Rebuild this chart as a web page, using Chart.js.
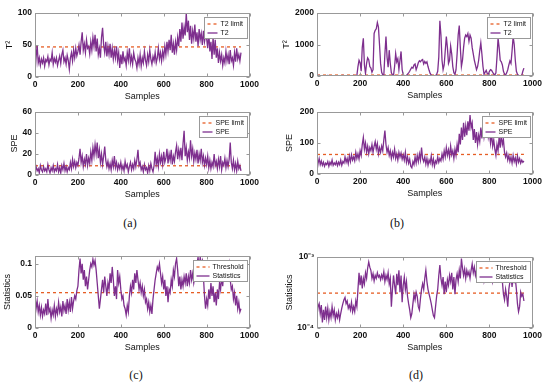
<!DOCTYPE html>
<html>
<head>
<meta charset="utf-8">
<script src="https://cdn.jsdelivr.net/npm/chart.js@4.4.1/dist/chart.umd.min.js"></script>
<style>
  body { margin: 0; background: #fff; }
  #wrap { position: relative; width: 550px; height: 383px; overflow: hidden; background: #fff; }
  canvas { position: absolute; }
  .cap { position: absolute; font: 12px 'Liberation Serif', 'DejaVu Serif', serif; color: #111; transform: translate(-50%, -50%); }
</style>
</head>
<body>
<div id="wrap">
  <canvas id="t2a" width="262" height="103" style="left:0;top:0"></canvas>
  <canvas id="speA" width="262" height="98" style="left:0;top:103px"></canvas>
  <canvas id="t2b" width="270" height="102" style="left:275px;top:0"></canvas>
  <canvas id="speB" width="270" height="97" style="left:275px;top:103px"></canvas>
  <canvas id="statC" width="262" height="109" style="left:0;top:245px"></canvas>
  <canvas id="statD" width="270" height="109" style="left:275px;top:245px"></canvas>
  <div class="cap" style="left:130px;top:223px">(a)</div>
  <div class="cap" style="left:397px;top:223px">(b)</div>
  <div class="cap" style="left:136px;top:375px">(c)</div>
  <div class="cap" style="left:416px;top:375px">(d)</div>
</div>
<script>
// one value every 5 samples
const sampleStep = 5;

// (a) T2 / SPE
const t2A = [
  5,30,50,22,30,18,28,22,30,17,27,24,32,19,28,25,38,20,29,23,
  30,18,26,33,21,35,42,24,30,20,34,26,12,30,38,25,42,30,45,33,
  40,50,35,55,70,42,52,38,58,45,48,36,55,42,62,48,66,40,60,35,
  45,30,62,77,50,38,55,32,48,35,52,30,45,28,42,30,48,26,38,14,
  35,20,40,25,30,18,38,26,45,22,32,20,38,28,24,14,30,20,35,17,
  30,22,40,26,18,35,24,42,28,20,32,25,38,22,30,45,28,38,25,40,
  30,48,35,55,40,58,42,66,38,52,35,55,42,62,48,75,55,85,60,78,
  65,100,70,88,58,80,52,72,60,82,55,70,48,75,58,68,50,72,55,65,
  60,45,70,40,55,28,62,35,58,30,45,22,38,25,35,18,30,22,40,25,
  35,20,42,25,30,18,38,24,45,28,35,25,38
];
const t2LimitA = 47;

const speA = [
  3,8,4,6,2,9,5,3,8,4,6,3,10,5,2,7,4,9,3,6,
  4,10,3,7,2,9,5,11,4,8,3,7,5,12,6,15,8,13,7,12,
  9,16,25,12,18,8,15,10,20,9,16,11,22,14,26,18,29,20,31,16,
  24,12,20,10,18,27,14,8,13,6,11,5,14,8,18,7,12,5,10,6,
  12,5,9,4,13,7,10,3,8,12,5,10,6,14,8,15,24,9,12,5,
  8,3,10,5,7,2,9,4,11,6,3,9,22,10,16,8,20,12,18,10,
  22,12,16,25,11,20,14,24,10,18,13,22,28,15,24,17,26,14,30,42,
  18,26,14,22,16,33,18,25,13,21,15,24,11,20,14,25,12,18,9,16,
  10,18,7,14,6,12,8,20,9,13,6,15,8,18,5,12,9,16,7,14,
  8,15,31,12,6,14,5,11,4,13,6,9,4
];
const speLimitA = 8.8;

// (b) T2 / SPE
const t2B = [
  12,8,15,10,6,14,9,12,7,11,15,8,10,13,6,9,12,8,14,10,
  9,13,7,11,15,8,12,10,6,14,9,12,8,11,15,10,13,20,300,500,
  420,150,900,1200,350,80,400,580,520,300,250,120,200,1350,1450,1500,1700,1550,1000,400,
  120,30,20,700,1250,600,280,820,400,100,40,20,300,710,450,550,200,500,780,200,
  40,15,10,20,60,100,150,220,280,250,350,380,200,300,420,480,450,500,520,380,
  460,400,450,300,180,80,30,15,10,15,20,50,150,600,1750,1300,500,200,350,800,
  1250,900,400,500,950,700,300,100,50,200,700,1300,1600,900,300,500,900,1200,1300,1250,
  1350,1100,1300,1200,900,700,500,350,200,300,500,800,1050,700,300,50,120,180,80,60,
  150,200,180,120,60,30,100,600,1200,900,500,450,350,150,60,30,100,200,350,480,
  400,800,1250,1000,500,150,60,20,10,10,20,150,250
];
const t2LimitB = 30;

const speB = [
  10,35,50,30,42,28,38,25,35,30,40,25,38,30,45,28,36,30,40,27,
  38,30,45,28,40,35,55,38,50,33,58,40,62,45,55,42,70,50,65,48,
  75,60,95,118,80,100,70,90,65,85,75,95,70,90,105,80,98,65,85,70,
  90,75,110,140,95,70,85,60,75,50,70,55,80,50,65,45,70,55,68,48,
  62,45,70,38,55,35,48,25,20,40,30,55,35,60,40,65,45,85,50,40,
  55,32,50,28,45,35,58,30,48,25,42,35,55,38,50,42,65,48,75,55,
  85,60,78,55,90,62,75,50,80,60,95,70,130,95,150,110,165,120,155,125,
  170,140,190,150,165,110,145,100,135,95,125,105,150,115,160,120,145,130,175,120,
  140,100,130,90,110,80,60,95,75,120,85,130,95,110,70,55,68,45,60,40,
  55,35,60,40,52,32,58,38,50,35,45,38,42
];
const speLimitB = 63;

// (c) statistics, linear axis
const statsC = [
  0.05,0.03,0.042,0.025,0.035,0.02,0.032,0.018,0.028,0.022,0.038,0.02,0.045,0.025,0.03,0.015,0.028,0.02,0.035,0.018,
  0.03,0.022,0.04,0.025,0.033,0.018,0.042,0.027,0.035,0.022,0.045,0.028,0.04,0.025,0.048,0.03,0.042,0.05,0.045,0.058,
  0.065,0.09,0.108,0.085,0.1,0.075,0.09,0.065,0.08,0.06,0.075,0.09,0.1,0.095,0.107,0.098,0.105,0.09,0.07,0.05,
  0.03,0.045,0.06,0.075,0.055,0.08,0.065,0.05,0.07,0.06,0.085,0.07,0.095,0.075,0.05,0.065,0.045,0.09,0.07,0.08,
  0.06,0.045,0.05,0.035,0.03,0.02,0.035,0.025,0.05,0.065,0.055,0.075,0.06,0.085,0.07,0.09,0.075,0.06,0.07,0.055,
  0.065,0.05,0.06,0.04,0.045,0.03,0.04,0.025,0.035,0.022,0.045,0.06,0.075,0.085,0.095,0.09,0.1,0.085,0.07,0.08,
  0.06,0.075,0.05,0.065,0.04,0.06,0.055,0.075,0.065,0.09,0.08,0.1,0.108,0.09,0.065,0.08,0.06,0.075,0.065,0.08,
  0.07,0.085,0.065,0.08,0.07,0.09,0.075,0.085,0.07,0.08,0.09,0.1,0.11,0.095,0.11,0.1,0.105,0.08,0.05,0.03,
  0.045,0.035,0.06,0.045,0.07,0.05,0.065,0.04,0.055,0.035,0.06,0.045,0.07,0.06,0.08,0.065,0.09,0.075,0.095,0.08,
  0.09,0.1,0.075,0.06,0.065,0.045,0.055,0.035,0.05,0.03,0.04,0.025,0.03
];
const thresholdC = 0.055;

// (d) statistics, log axis
const statsD = [
  1.5e-4,2.0e-4,2.2e-4,1.6e-4,2.1e-4,1.2e-4,1.8e-4,1.3e-4,2.0e-4,1.4e-4,1.9e-4,1.3e-4,1.7e-4,1.4e-4,2.0e-4,1.5e-4,1.8e-4,1.3e-4,1.6e-4,1.4e-4,
  1.7e-4,1.3e-4,1.6e-4,1.9e-4,2.2e-4,2.5e-4,2.7e-4,2.2e-4,2.4e-4,1.9e-4,2.1e-4,1.8e-4,2.3e-4,1.7e-4,2.0e-4,1.7e-4,2.4e-4,2.0e-4,3.5e-4,6.0e-4,
  4.0e-4,5.5e-4,3.6e-4,5.0e-4,4.2e-4,6.0e-4,5.0e-4,7.0e-4,8.5e-4,7.2e-4,6.5e-4,5.0e-4,5.8e-4,4.6e-4,5.5e-4,5.0e-4,6.0e-4,5.2e-4,5.5e-4,4.8e-4,
  5.6e-4,5.0e-4,6.2e-4,4.5e-4,5.5e-4,4.8e-4,6.0e-4,4.2e-4,5.0e-4,2.0e-4,3.5e-4,5.5e-4,4.0e-4,3.0e-4,5.8e-4,4.0e-4,6.5e-4,3.2e-4,5.5e-4,2.3e-4,
  4.0e-4,5.2e-4,3.5e-4,4.5e-4,2.8e-4,2.2e-4,1.8e-4,1.4e-4,1.6e-4,2.2e-4,3.0e-4,2.5e-4,3.2e-4,2.8e-4,2.0e-4,1.8e-4,2.6e-4,3.5e-4,4.2e-4,3.5e-4,
  5.0e-4,6.5e-4,4.5e-4,3.5e-4,3.0e-4,2.6e-4,2.2e-4,1.8e-4,1.5e-4,1.4e-4,2.0e-4,2.8e-4,3.5e-4,5.5e-4,7.7e-4,5.0e-4,4.0e-4,5.2e-4,3.0e-4,4.5e-4,
  3.2e-4,4.8e-4,4.0e-4,5.5e-4,4.5e-4,6.0e-4,3.5e-4,5.2e-4,3.0e-4,4.8e-4,5.8e-4,4.5e-4,6.5e-4,5.0e-4,9.5e-4,7.0e-4,5.5e-4,6.8e-4,5.0e-4,6.5e-4,
  5.5e-4,6.2e-4,5.0e-4,6.5e-4,8.0e-4,6.0e-4,7.2e-4,5.5e-4,6.5e-4,5.2e-4,6.0e-4,4.8e-4,5.5e-4,5.0e-4,6.2e-4,4.6e-4,5.5e-4,4.8e-4,5.8e-4,5.0e-4,
  6.0e-4,5.2e-4,5.8e-4,4.5e-4,5.5e-4,6.5e-4,5.0e-4,6.0e-4,5.5e-4,6.8e-4,5.5e-4,6.0e-4,4.5e-4,3.0e-4,2.5e-4,3.5e-4,2.8e-4,2.0e-4,3.5e-4,4.5e-4,
  5.5e-4,3.8e-4,6.0e-4,4.5e-4,5.0e-4,3.5e-4,2.2e-4,1.7e-4,2.0e-4,3.2e-4,2.8e-4,3.0e-4,2.4e-4
];
const thresholdD = 3.1e-4;

Chart.defaults.font.family = "'Liberation Sans', Arial, sans-serif";
Chart.defaults.color = '#111';

const limitColor = '#E65E25';
const seriesColor = '#7E2F8E';
const frameColor = '#999';

function toPoints(values) {
  return values.map((v, i) => ({ x: i * sampleStep, y: v }));
}

// matlab style box with inward ticks
const framePlugin = {
  id: 'frame',
  afterDatasetsDraw(chart) {
    const { ctx, chartArea: a } = chart;
    const xs = chart.scales.x, ys = chart.scales.y;
    const L = Math.round(a.left) + 0.5, R = Math.round(a.right) - 0.5;
    const T = Math.round(a.top) + 0.5, B = Math.round(a.bottom) - 0.5;
    ctx.save();
    ctx.strokeStyle = frameColor;
    ctx.lineWidth = 1;
    ctx.strokeRect(L, T, R - L, B - T);
    ctx.beginPath();
    xs.ticks.forEach(t => {
      const px = Math.round(xs.getPixelForValue(t.value)) + 0.5;
      ctx.moveTo(px, B); ctx.lineTo(px, B - 3);
      ctx.moveTo(px, T); ctx.lineTo(px, T + 3);
    });
    ys.ticks.forEach(t => {
      const py = Math.round(ys.getPixelForValue(t.value)) + 0.5;
      ctx.moveTo(L, py); ctx.lineTo(L + 3, py);
      ctx.moveTo(R, py); ctx.lineTo(R - 3, py);
    });
    ctx.stroke();
    ctx.restore();
  }
};

// legend box inside the top right corner
const legendPlugin = {
  id: 'boxLegend',
  afterDraw(chart, args, opts) {
    const { ctx, chartArea: a } = chart;
    const sets = chart.data.datasets;
    const lineLen = opts.lineLen || 10;
    ctx.save();
    ctx.font = "7px 'Liberation Sans', Arial, sans-serif";
    const tw = Math.max(...sets.map(d => ctx.measureText(d.label).width));
    const rowH = 9;
    const w = Math.round(3 + lineLen + 3 + tw + 4);
    const h = sets.length * rowH + 3;
    const x0 = Math.round(a.right - 3 - w) + 0.5;
    const y0 = Math.round(a.top + 4) + 0.5;
    ctx.fillStyle = '#fff';
    ctx.fillRect(x0, y0, w, h);
    ctx.strokeStyle = frameColor;
    ctx.lineWidth = 1;
    ctx.strokeRect(x0, y0, w, h);
    sets.forEach((d, i) => {
      const cy = y0 + 2 + rowH * i + rowH / 2;
      ctx.beginPath();
      ctx.strokeStyle = d.borderColor;
      ctx.lineWidth = d.borderWidth;
      ctx.setLineDash(d.borderDash || []);
      ctx.moveTo(x0 + 3, cy);
      ctx.lineTo(x0 + 3 + lineLen, cy);
      ctx.stroke();
      ctx.setLineDash([]);
      ctx.fillStyle = '#111';
      ctx.textBaseline = 'middle';
      ctx.fillText(d.label, x0 + 6 + lineLen, cy);
    });
    ctx.restore();
  }
};

function makeChart(id, o) {
  const yScale = {
    type: o.log ? 'logarithmic' : 'linear',
    min: o.yMin,
    max: o.yMax,
    grid: { display: false, drawTicks: false },
    border: { display: false },
    ticks: {
      padding: 3,
      includeBounds: false,
      font: { size: 8.5, weight: 'bold' },
      callback: o.yLabel || (v => String(+Number(v).toFixed(4)))
    },
    title: { display: true, text: o.yTitle, font: { size: 9 }, padding: { top: o.yTitlePad, bottom: 0 } },
    afterFit: s => { s.width = o.yWidth; }
  };
  if (o.yStep) yScale.ticks.stepSize = o.yStep;
  if (o.yTicks) yScale.afterBuildTicks = s => { s.ticks = o.yTicks.map(v => ({ value: v })); };

  const xScale = {
    type: 'linear',
    min: 0,
    max: 1000,
    grid: { display: false, drawTicks: false },
    border: { display: false },
    ticks: { stepSize: 200, padding: 3, autoSkip: false, maxRotation: 0, font: { size: 8.5, weight: 'bold' }, callback: v => String(v) },
    title: { display: true, text: 'Samples', font: { size: 9 }, padding: { top: 0, bottom: 1 } },
    afterFit: s => { s.height = 26; }
  };

  const lastX = (o.values.length - 1) * sampleStep;

  return new Chart(document.getElementById(id), {
    type: 'line',
    data: {
      datasets: [
        { label: o.limitLabel, data: [{ x: 0, y: o.limit }, { x: lastX, y: o.limit }], order: 1,
          borderColor: limitColor, borderWidth: 1.3, borderDash: [3, 3], pointRadius: 0 },
        { label: o.seriesLabel, data: toPoints(o.values), order: 0,
          borderColor: seriesColor, borderWidth: 1.3, pointRadius: 0, tension: 0 }
      ]
    },
    options: {
      responsive: false,
      animation: false,
      devicePixelRatio: 1,
      layout: { padding: { top: o.padTop, right: 12, left: 0, bottom: 0 } },
      plugins: {
        legend: { display: false },
        tooltip: { enabled: false },
        boxLegend: { lineLen: o.lineLen }
      },
      scales: { x: xScale, y: yScale }
    },
    plugins: [framePlugin, legendPlugin]
  });
}

const sup = { '-': '\u207B', '3': '\u00B3', '4': '\u2074' };
function logLabel(v) {
  const e = String(Math.round(Math.log10(v)));
  return '10' + e.split('').map(c => sup[c] || c).join('');
}

makeChart('t2a', { values: t2A, limit: t2LimitA, limitLabel: 'T2 limit', seriesLabel: 'T2',
  yTitle: 'T\u00B2', yMin: 0, yMax: 100, yStep: 50, yWidth: 35, yTitlePad: 4.6, padTop: 13, lineLen: 10 });
makeChart('speA', { values: speA, limit: speLimitA, limitLabel: 'SPE limit', seriesLabel: 'SPE',
  yTitle: 'SPE', yMin: 0, yMax: 60, yStep: 20, yWidth: 35, yTitlePad: 9.6, padTop: 9, lineLen: 10 });
makeChart('t2b', { values: t2B, limit: t2LimitB, limitLabel: 'T2 limit', seriesLabel: 'T2',
  yTitle: 'T\u00B2', yMin: 0, yMax: 2000, yStep: 1000, yWidth: 42, yTitlePad: 6.6, padTop: 13, lineLen: 10 });
makeChart('speB', { values: speB, limit: speLimitB, limitLabel: 'SPE limit', seriesLabel: 'SPE',
  yTitle: 'SPE', yMin: 0, yMax: 200, yStep: 100, yWidth: 42, yTitlePad: 9.6, padTop: 9, lineLen: 10 });
makeChart('statC', { values: statsC, limit: thresholdC, limitLabel: 'Threshold', seriesLabel: 'Statistics',
  yTitle: 'Statistics', yMin: 0, yMax: 0.112, yStep: 0.05, yWidth: 35, yTitlePad: 2.6, padTop: 11, lineLen: 13 });
makeChart('statD', { values: statsD, limit: thresholdD, limitLabel: 'Threshold', seriesLabel: 'Statistics',
  yTitle: 'Statistics', log: true, yMin: 1e-4, yMax: 1e-3, yTicks: [1e-4, 1e-3], yLabel: logLabel,
  yWidth: 42, yTitlePad: 9.6, padTop: 12, lineLen: 13 });
</script>
</body>
</html>
